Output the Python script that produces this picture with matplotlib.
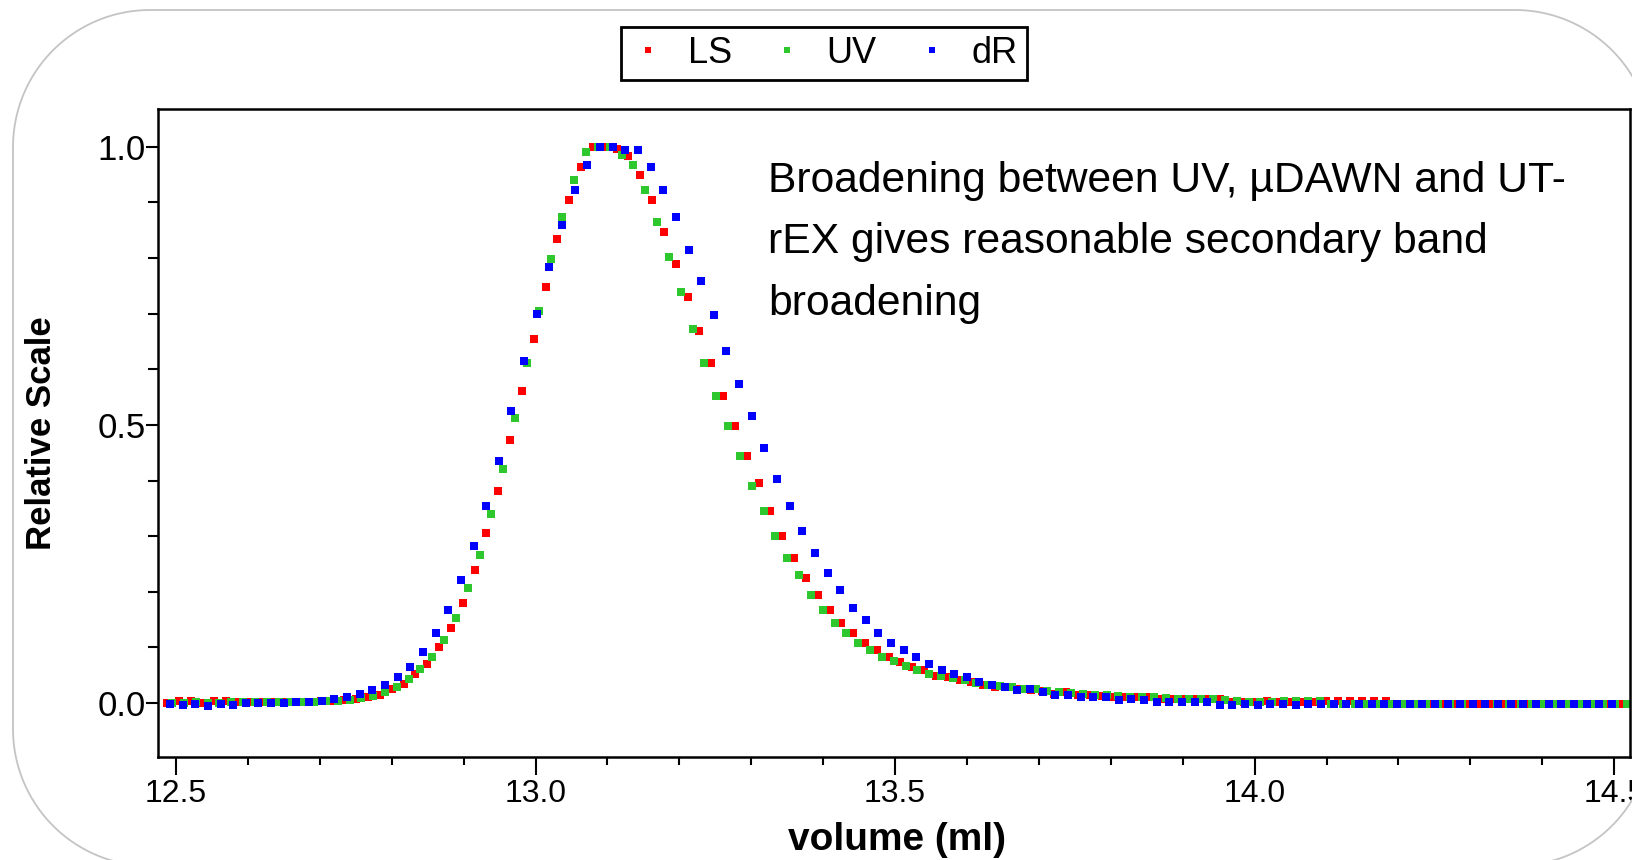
import numpy as np
import matplotlib
matplotlib.use("Agg")
import matplotlib.pyplot as plt
from matplotlib import font_manager
from matplotlib.lines import Line2D
from matplotlib.patches import Polygon
from matplotlib.ticker import MultipleLocator
from matplotlib.transforms import IdentityTransform

# sampling grid of each detector trace (ml)
ls_start = 12.4876
uv_start = 12.4946
dr_start = 12.4916
ls_uv_step = 0.01645
dr_step = 0.01759

ls_values = [
    0.000, 0.003, 0.003, 0.000, 0.003, 0.003, 0.002, 0.002, 0.001, 0.001, 0.002, 0.002,
    0.002, 0.003, 0.004, 0.005, 0.007, 0.010,
    0.014, 0.025, 0.034, 0.052, 0.070, 0.100, 0.135, 0.180, 0.239, 0.305, 0.381, 0.472,
    0.561, 0.655, 0.748, 0.834, 0.904, 0.963, 0.999, 1.000, 0.996, 0.984, 0.949, 0.904,
    0.847, 0.789, 0.730, 0.669, 0.611, 0.552, 0.498, 0.444, 0.395, 0.345, 0.300, 0.261,
    0.225, 0.194, 0.167, 0.144, 0.126, 0.108, 0.095, 0.083, 0.074, 0.064, 0.059, 0.049,
    0.046, 0.041, 0.037, 0.032, 0.029, 0.028, 0.025, 0.023, 0.022, 0.017, 0.019, 0.014,
    0.014, 0.013, 0.011, 0.010, 0.011, 0.011, 0.008, 0.007, 0.008, 0.007, 0.008, 0.007,
    0.002, 0.002, 0.002, 0.003, 0.002, 0.002, 0.002, 0.002, 0.003, 0.004, 0.004, 0.004,
    0.004, 0.004,
    -0.002, -0.002, -0.002, -0.002, -0.002, -0.002, -0.002, -0.002, -0.002, -0.002,
    -0.002, -0.002, -0.002, -0.002, -0.002, -0.002, -0.002, -0.002, -0.002, -0.002,
]

uv_values = [
    0.000, 0.000, 0.001, 0.000, 0.000, 0.001, 0.001, 0.001, 0.001, 0.001, 0.001, 0.002,
    0.002, 0.003, 0.004, 0.006, 0.009, 0.013,
    0.020, 0.029, 0.043, 0.061, 0.083, 0.113, 0.153, 0.207, 0.266, 0.340, 0.421, 0.513,
    0.611, 0.704, 0.798, 0.873, 0.940, 0.990, 0.999, 0.999, 0.985, 0.967, 0.922, 0.865,
    0.802, 0.739, 0.673, 0.611, 0.552, 0.498, 0.444, 0.390, 0.345, 0.300, 0.261, 0.230,
    0.194, 0.167, 0.144, 0.126, 0.108, 0.095, 0.083, 0.075, 0.066, 0.060, 0.053, 0.048,
    0.045, 0.041, 0.036, 0.032, 0.031, 0.028, 0.026, 0.025, 0.022, 0.020, 0.018, 0.017,
    0.015, 0.014, 0.013, 0.011, 0.011, 0.010, 0.009, 0.008, 0.008, 0.008, 0.007, 0.006,
    0.003, 0.002, 0.002, 0.002, 0.004, 0.004, 0.004, 0.004,
    -0.002, -0.002, -0.002, -0.002, -0.002, -0.002, -0.002, -0.002, -0.002, -0.002,
    -0.002, -0.002, -0.002, -0.002, -0.002, -0.002, -0.002, -0.002, -0.002, -0.002,
    -0.002, -0.002, -0.002, -0.002, -0.002, -0.002,
]

dr_values = [
    -0.002, -0.003, -0.002, -0.005, -0.001, -0.004, 0.000, 0.000, 0.000, 0.000, 0.001, 0.002,
    0.004, 0.007, 0.011, 0.016, 0.024, 0.032, 0.047, 0.065, 0.092, 0.126, 0.167, 0.221,
    0.283, 0.354, 0.435, 0.525, 0.615, 0.700, 0.784, 0.860, 0.922, 0.967, 0.999, 0.999,
    0.994, 0.994, 0.963, 0.922, 0.873, 0.815, 0.759, 0.698, 0.633, 0.574, 0.516, 0.458,
    0.403, 0.354, 0.309, 0.270, 0.234, 0.203, 0.171, 0.149, 0.126, 0.108, 0.095, 0.083,
    0.070, 0.060, 0.052, 0.047, 0.038, 0.033, 0.028, 0.024, 0.025, 0.020, 0.014, 0.015,
    0.011, 0.011, 0.011, 0.006, 0.007, 0.006, 0.002, 0.002, 0.002, 0.002, 0.001,
    -0.003, -0.003, -0.002, -0.003, -0.002, -0.002, -0.003, -0.002, -0.002, -0.002, -0.002,
    -0.002, -0.002, -0.002, -0.002, -0.002, -0.002, -0.002, -0.002, -0.002, -0.002, -0.002,
    -0.002, -0.002, -0.002, -0.002, -0.002, -0.002, -0.002, -0.002, -0.002, -0.002,
]

series_names = ["LS", "UV", "dR"]
series_colors = ["#ff0000", "#2ec82e", "#0000ff"]
x_ticks = [12.5, 13.0, 13.5, 14.0, 14.5]
y_ticks = [0.0, 0.5, 1.0]
note = "Broadening between UV, \u00b5DAWN and UT-\nrEX gives reasonable secondary band\nbroadening"

installed = {f.name for f in font_manager.fontManager.ttflist}
narrow = "Liberation Sans Narrow" if "Liberation Sans Narrow" in installed else "Liberation Sans"
plt.rcParams["font.family"] = [narrow, "DejaVu Sans"]

ls_vol = ls_start + ls_uv_step * np.arange(len(ls_values))
uv_vol = uv_start + ls_uv_step * np.arange(len(uv_values))
dr_vol = dr_start + dr_step * np.arange(len(dr_values))

fig = plt.figure(figsize=(16.32, 8.6), dpi=100)
ax = fig.add_axes([0.0968, 0.1198, 0.902, 0.7535])

for vol, vals, name, col in zip([ls_vol, uv_vol, dr_vol], [ls_values, uv_values, dr_values],
                                series_names, series_colors):
    ax.plot(vol, vals, linestyle="none", marker="s", markersize=5.6,
            markeredgewidth=0, color=col, label=name)

ax.set_xlim(12.475, 14.522)
ax.set_ylim(-0.097, 1.068)
ax.set_xticks(x_ticks)
ax.set_xticklabels([f"{t:.1f}" for t in x_ticks])
ax.set_yticks(y_ticks)
ax.set_yticklabels([f"{t:.1f}" for t in y_ticks])
ax.xaxis.set_minor_locator(MultipleLocator(0.1))
ax.yaxis.set_minor_locator(MultipleLocator(0.1))
ax.tick_params(axis="x", which="major", length=13, width=1.5, pad=3, labelsize=23)
ax.tick_params(axis="x", which="minor", length=6, width=1.5)
ax.tick_params(axis="y", which="major", length=9, width=1.5, pad=0, labelsize=25)
ax.tick_params(axis="y", which="minor", length=7, width=1.5)
for sp in ax.spines.values():
    sp.set_linewidth(1.8)

ax.set_xlabel("volume (ml)", fontsize=28, fontweight="bold")
ax.xaxis.set_label_coords(0.502, -0.1)
ax.set_ylabel("Relative Scale", fontsize=25, fontweight="bold")
ax.yaxis.set_label_coords(-0.068, 0.5)

fig.text(768 / 1632, 1 - 161 / 860, note, fontsize=30.7, family="Liberation Sans",
         ha="left", va="top", linespacing=1.69)

handles = [Line2D([], [], linestyle="none", marker="s", markersize=4, markeredgewidth=0,
                  color=c) for c in series_colors]
leg = fig.legend(handles, series_names, loc="center", bbox_to_anchor=(0.505, 0.938),
                 ncol=3, fancybox=False, edgecolor="black", framealpha=1, fontsize=26,
                 handlelength=0.96, handletextpad=0.62, columnspacing=1.05, borderpad=0.25)
leg.get_frame().set_linewidth(2)

# rounded frame around the whole chart, in pixels (y measured from the bottom)
left, right, top, bottom, rad = 13, 1652, 850, -6, 137
ang = np.linspace(0, np.pi / 2, 40)
corners = [
    (right - rad, top - rad, ang),
    (left + rad, top - rad, ang + np.pi / 2),
    (left + rad, bottom + rad, ang + np.pi),
    (right - rad, bottom + rad, ang + 1.5 * np.pi),
]
outline = np.vstack([np.column_stack([cx + rad * np.cos(a), cy + rad * np.sin(a)])
                     for cx, cy, a in corners])
fig.add_artist(Polygon(outline, closed=True, fill=False, edgecolor="#c4c4c4",
                       linewidth=1.3, transform=IdentityTransform()))

fig.savefig("out.png", dpi=100)
